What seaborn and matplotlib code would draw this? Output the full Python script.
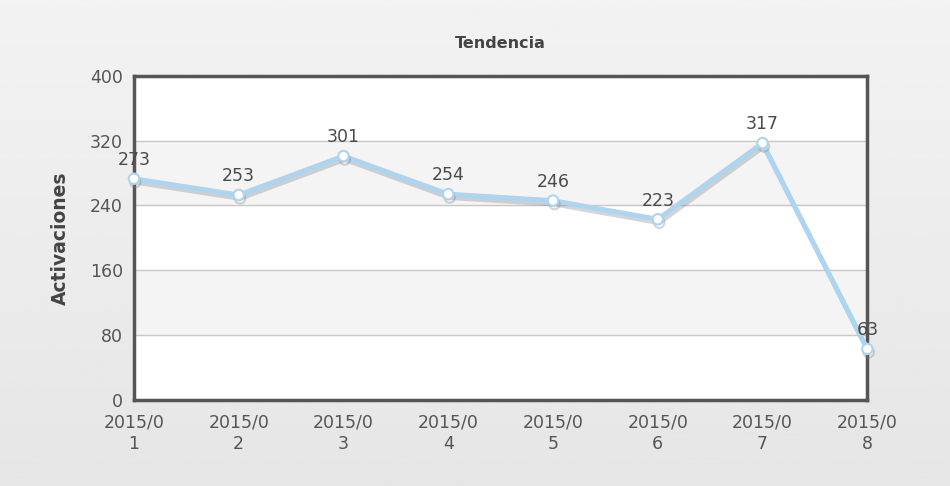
import numpy as np
import pandas as pd
import matplotlib
matplotlib.use("Agg")
import matplotlib.pyplot as plt
import matplotlib.patheffects as pe
import seaborn as sns

# data
months = ["2015/0\n1", "2015/0\n2", "2015/0\n3", "2015/0\n4",
          "2015/0\n5", "2015/0\n6", "2015/0\n7", "2015/0\n8"]
activaciones = [273, 253, 301, 254, 246, 223, 317, 63]
y_ticks = [0, 80, 160, 240, 320, 400]

df = pd.DataFrame({"pos": range(len(months)), "val": activaciones})

sns.set_style("white")
plt.rcParams['font.family'] = ['DejaVu Sans']

fig = plt.figure(figsize=(9.5, 4.86), dpi=100)

# soft gray gradient behind everything
bg = fig.add_axes([0, 0, 1, 1], zorder=-10)
grad = np.linspace(0.95, 0.9, 256).reshape(-1, 1)
bg.imshow(grad, aspect="auto", cmap="gray", vmin=0, vmax=1, extent=[0, 1, 0, 1])
bg.axis("off")

ax = fig.add_axes([0.141, 0.177, 0.772, 0.667])
ax.set_facecolor("white")

# alternating horizontal bands
for i in range(len(y_ticks) - 1):
    if i % 2 == 1:
        ax.axhspan(y_ticks[i], y_ticks[i + 1], color="#f4f4f4", zorder=0)
for t in y_ticks[1:-1]:
    ax.axhline(t, color="#c8c8c8", lw=1, zorder=1)

sns.lineplot(data=df, x="pos", y="val", ax=ax, color="#acd5f1", lw=3.5,
             marker="o", markersize=7.5, markerfacecolor="white",
             markeredgecolor="#acd5f1", markeredgewidth=1.5, zorder=15, clip_on=False,
             path_effects=[pe.SimpleLineShadow(offset=(1, -2.5), shadow_color="#888888", alpha=0.35),
                           pe.Normal()])

for x, v in zip(df["pos"], df["val"]):
    ax.annotate(str(v), (x, v), xytext=(0, 7), textcoords="offset points",
                ha="center", va="bottom", fontsize=12.5, color="#4a4a4a", zorder=16)

ax.set_xlim(0, len(months) - 1)
ax.set_ylim(0, 400)
ax.set_yticks(y_ticks)
ax.set_xticks(range(len(months)))
ax.set_xticklabels(months)
ax.tick_params(axis="both", labelsize=12.5, colors="#555555", length=0)
ax.tick_params(axis="y", pad=8)
ax.tick_params(axis="x", pad=10)

for s in ax.spines.values():
    s.set_visible(True)
    s.set_color("#555555")
    s.set_linewidth(2.5)
    s.set_zorder(10)

ax.set_xlabel("")
ax.set_ylabel("Activaciones", fontsize=13.5, fontweight="bold", color="#444444", labelpad=14)
ax.set_title("Tendencia", fontsize=11.5, fontweight="bold", color="#444444", pad=20)

fig.savefig("out.png", dpi=100)
